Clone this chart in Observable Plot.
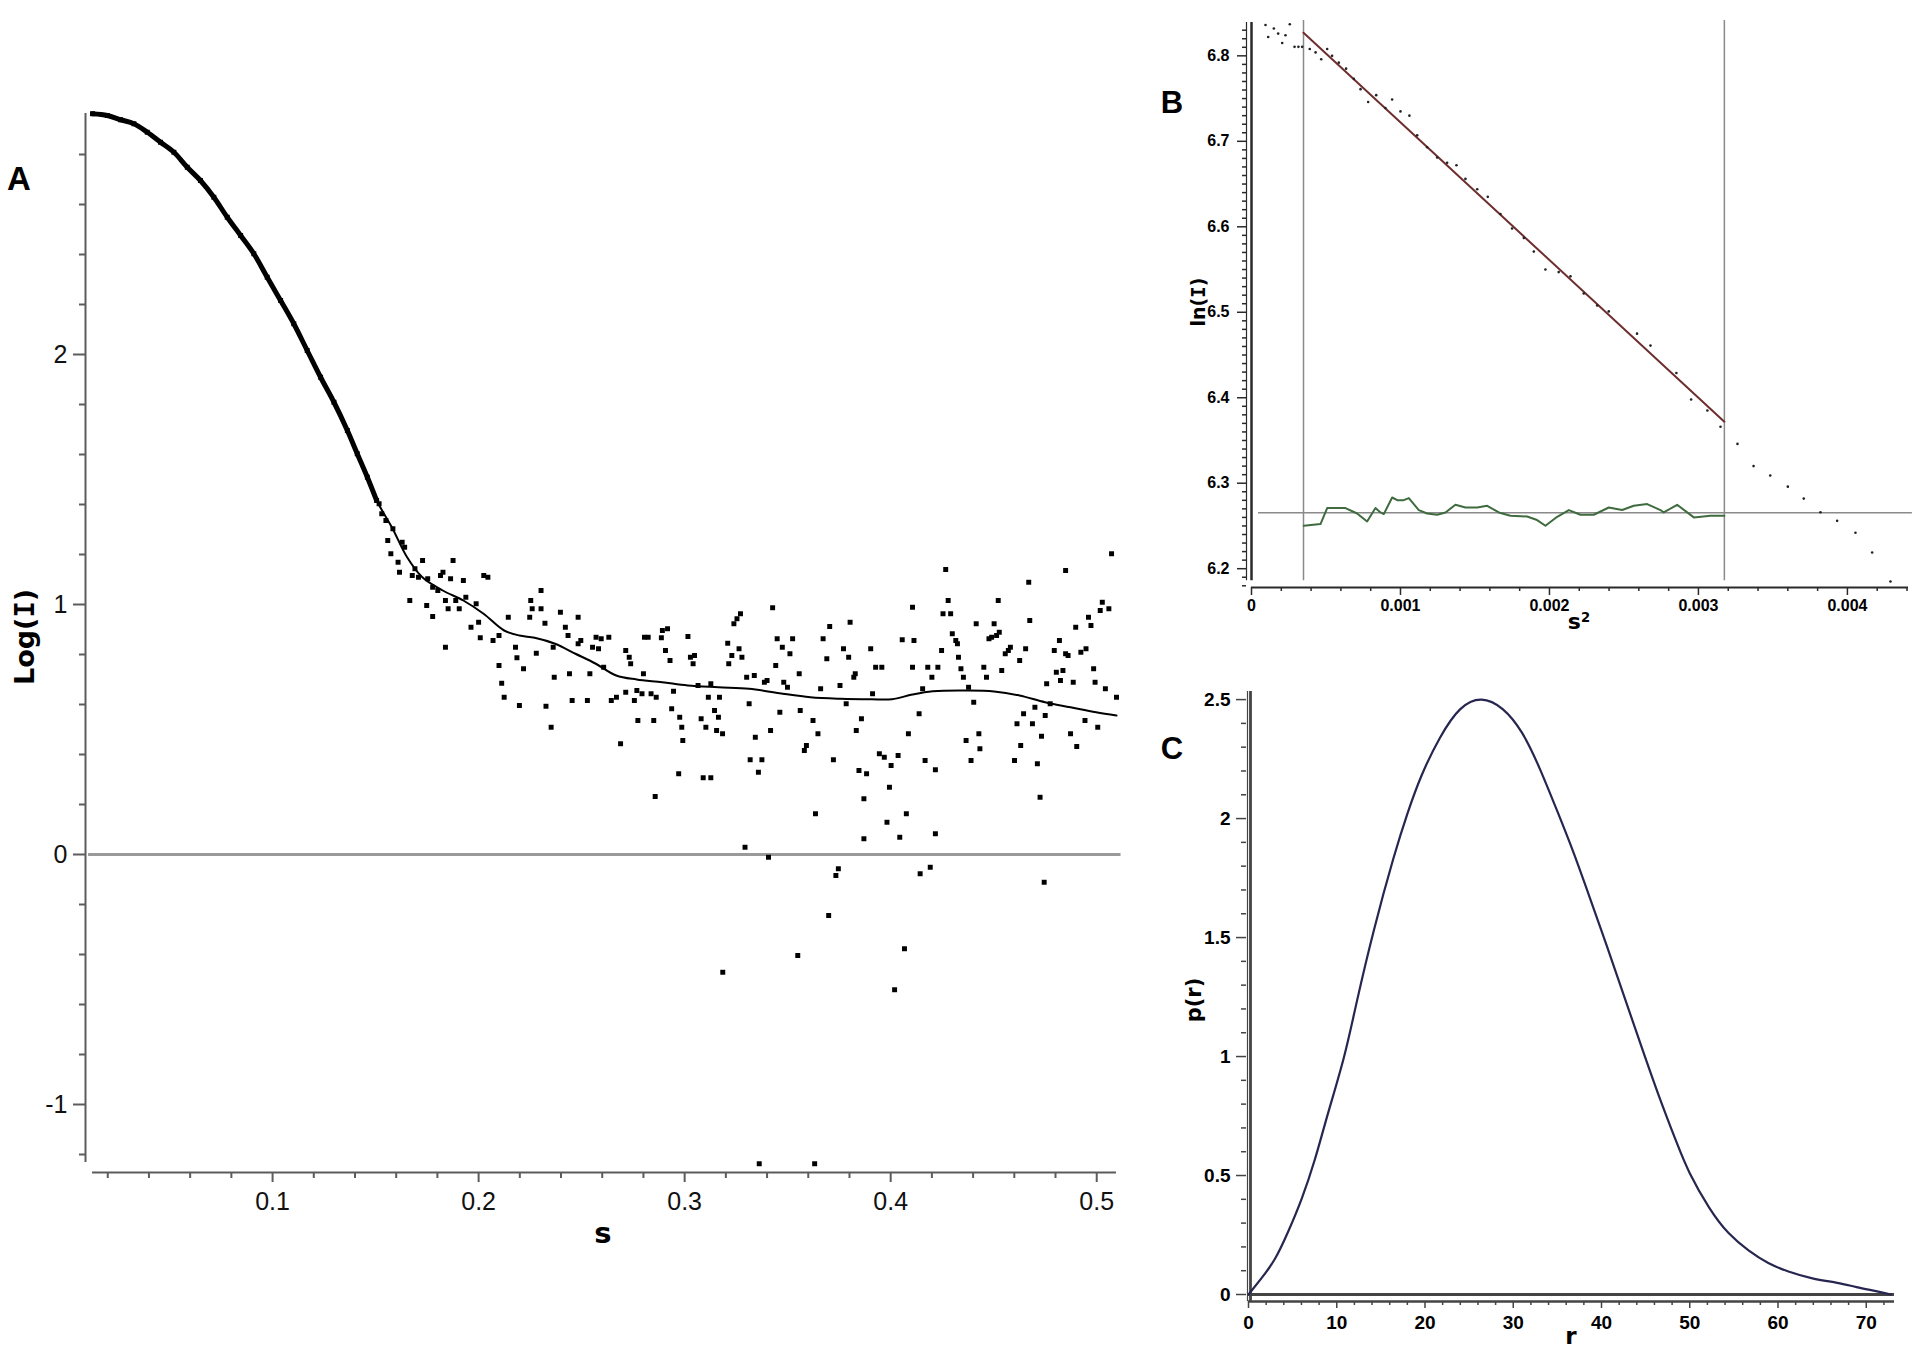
<!DOCTYPE html>
<html><head><meta charset="utf-8">
<script src="https://cdn.jsdelivr.net/npm/d3@7"></script>
<script src="https://cdn.jsdelivr.net/npm/@observablehq/plot@0.6"></script>
<style>
html,body{margin:0;padding:0;background:#fff;}
#root{position:relative;width:1920px;height:1352px;overflow:hidden;background:#fff;font-family:"Liberation Sans",Arial,sans-serif;}
#root svg{position:absolute;overflow:visible;}
.lbl{position:absolute;transform:translate(-50%,-50%);line-height:1;white-space:nowrap;color:#000;font-weight:bold;}
.ax{font-family:"DejaVu Sans",Verdana,sans-serif;}
.rot{transform:translate(-50%,-50%) rotate(-90deg);}
.mi{font-family:"DejaVu Sans Mono",monospace;}
sup{font-size:0.6em;vertical-align:0.55em;line-height:0;}
</style></head><body><div id="root"></div>
<script>
// ---------- Panel A : Log(I) vs s ----------
const aXDomain = [0.0126, 0.5096];
const aYDomain = [-1.272, 2.964];
const aYAxisExtent = [-1.232, 2.964];
const aXTicks = [0.1, 0.2, 0.3, 0.4, 0.5];
const aYTicks = [-1, 0, 1, 2];
// dense part of the measured curve
const aDenseS = [0.0126,0.0198,0.0262,0.0327,0.0392,0.0456,0.0521,0.0586,0.0650,0.0715,0.0780,0.0845,0.0909,0.0974,0.1039,0.1103,0.1168,0.1233,0.1298,0.1363,0.1411,0.1460,0.1505];
const aDenseLogI = [2.963,2.956,2.939,2.923,2.889,2.849,2.809,2.749,2.696,2.629,2.549,2.476,2.403,2.309,2.216,2.123,2.016,1.909,1.809,1.696,1.603,1.509,1.416];
// scattered measured points
const aDotS = [0.1517,0.1530,0.1550,0.1584,0.1559,0.1629,0.1641,0.1574,0.1609,0.1616,0.1666,0.1691,0.1708,0.1678,0.1728,0.1753,0.1777,0.1802,0.1815,0.1876,0.1864,0.1827,0.1839,0.1748,0.1777,0.1852,0.1889,0.1906,0.1926,0.1938,0.1988,0.1963,0.2000,0.2008,0.2025,0.2045,0.1839,0.2070,0.2099,0.2099,0.2112,0.2124,0.2144,0.2179,0.2186,0.2198,0.2218,0.2253,0.2248,0.2260,0.2280,0.2303,0.2303,0.2322,0.2327,0.2352,0.2362,0.2367,0.2397,0.2421,0.2434,0.2441,0.2454,0.2483,0.2483,0.2496,0.2528,0.2540,0.2553,0.2570,0.2582,0.2595,0.2607,0.2632,0.2644,0.2669,0.2689,0.2714,0.2714,0.2731,0.2738,0.2756,0.2773,0.2768,0.2793,0.2800,0.2805,0.2823,0.2837,0.2850,0.2862,0.2857,0.2887,0.2892,0.2907,0.2917,0.2929,0.2937,0.2946,0.2971,0.2976,0.2986,0.2991,0.3016,0.3028,0.3041,0.3048,0.3065,0.3080,0.3103,0.3115,0.3127,0.3145,0.3155,0.3164,0.3169,0.3184,0.3090,0.3127,0.3209,0.3214,0.3229,0.3239,0.3254,0.3264,0.3271,0.3278,0.3293,0.3301,0.3313,0.3318,0.3375,0.3358,0.3338,0.3343,0.3387,0.3400,0.3407,0.3417,0.3427,0.3442,0.3449,0.3462,0.3474,0.3481,0.3499,0.3511,0.3524,0.3556,0.3561,0.3581,0.3591,0.3623,0.3635,0.3647,0.3660,0.3672,0.3690,0.3704,0.3722,0.3734,0.3746,0.3754,0.3771,0.3784,0.3796,0.3803,0.3821,0.3828,0.3833,0.3846,0.3858,0.3870,0.3870,0.3883,0.3903,0.3912,0.3927,0.3945,0.3957,0.3969,0.3982,0.3994,0.4002,0.4036,0.4044,0.4056,0.4076,0.4086,0.4106,0.4113,0.4106,0.4138,0.4143,0.4155,0.4167,0.4180,0.4192,0.4200,0.4217,0.4217,0.4229,0.4247,0.4254,0.4267,0.4279,0.4291,0.4299,0.4316,0.4324,0.4329,0.4341,0.4353,0.4366,0.4378,0.4390,0.4403,0.4415,0.4428,0.4433,0.4452,0.4465,0.4477,0.4490,0.4502,0.4514,0.4522,0.4527,0.4539,0.4556,0.4571,0.4581,0.4601,0.4613,0.4626,0.4631,0.4645,0.4655,0.4670,0.4675,0.4688,0.4700,0.4712,0.4725,0.4732,0.4745,0.4750,0.4757,0.4774,0.4794,0.4804,0.4819,0.4824,0.4836,0.4849,0.4849,0.4861,0.4873,0.4886,0.4898,0.4903,0.4923,0.4943,0.4948,0.4960,0.4972,0.4985,0.4992,0.5005,0.5017,0.5027,0.5042,0.5059,0.5072,0.5096,0.3185,0.3362,0.3549,0.3631,0.3699,0.4019,0.4067];
const aDotLogI = [1.403,1.363,1.336,1.303,1.256,1.249,1.229,1.203,1.169,1.129,1.016,1.143,1.109,1.116,1.176,1.103,1.069,1.056,1.116,1.176,1.103,1.129,1.016,0.996,0.952,0.983,1.016,0.983,1.096,1.029,1.003,0.909,0.929,0.867,1.116,1.109,0.829,0.856,0.876,0.756,0.685,0.629,0.949,0.829,0.787,0.596,0.743,1.016,0.949,0.983,0.805,1.056,0.983,0.925,0.593,0.509,0.829,0.709,0.969,0.909,0.876,0.723,0.616,0.949,0.843,0.856,0.616,0.723,0.829,0.869,0.823,0.863,0.749,0.869,0.616,0.629,0.443,0.649,0.816,0.789,0.763,0.616,0.536,0.656,0.643,0.723,0.869,0.869,0.643,0.536,0.629,0.232,0.867,0.896,0.816,0.903,0.776,0.583,0.653,0.323,0.549,0.509,0.456,0.872,0.789,0.763,0.796,0.676,0.543,0.509,0.629,0.683,0.576,0.496,0.549,0.629,0.483,0.307,0.307,0.845,0.763,0.796,0.923,0.943,0.823,0.963,0.789,0.029,0.709,0.603,0.379,0.379,0.329,0.716,0.469,0.689,0.696,-0.011,0.496,0.987,0.756,0.863,0.569,0.829,0.689,0.669,0.803,0.863,0.723,0.576,0.416,0.436,0.536,0.163,0.483,0.663,0.863,0.783,0.912,0.379,-0.084,-0.057,0.676,0.823,0.603,0.789,0.929,0.709,0.723,0.496,0.336,0.543,0.063,0.223,0.323,0.823,0.643,0.749,0.403,0.749,0.389,0.129,0.269,0.356,0.396,0.069,0.859,0.163,0.483,0.989,0.856,0.749,0.563,-0.077,0.663,0.376,0.749,-0.051,0.709,0.083,0.339,0.749,0.816,0.963,1.140,1.016,0.963,0.883,0.856,0.843,0.789,0.743,0.709,0.456,0.669,0.376,0.609,0.923,0.483,0.423,0.749,0.709,0.863,0.869,0.923,0.876,1.016,0.889,0.736,0.803,0.816,0.829,0.376,0.523,0.776,0.436,0.563,0.823,1.089,0.936,0.523,0.589,0.363,0.229,0.473,-0.111,0.556,0.683,0.603,0.816,0.729,0.856,0.696,0.736,1.136,0.803,0.796,0.483,0.689,0.909,0.432,0.809,0.536,0.823,0.949,0.916,0.743,0.689,0.509,0.976,1.009,0.663,0.983,1.203,0.629,-0.471,-1.237,-0.404,-1.237,-0.244,-0.541,-0.377];
// fitted curve
const aFitS = [0.0126,0.0198,0.0262,0.0327,0.0392,0.0456,0.0521,0.0586,0.0650,0.0715,0.0780,0.0845,0.0909,0.0974,0.1039,0.1103,0.1168,0.1233,0.1298,0.1363,0.1411,0.1460,0.1505,0.1579,0.1653,0.1727,0.1826,0.1926,0.2024,0.2124,0.2198,0.2272,0.2371,0.2470,0.2569,0.2668,0.2767,0.2891,0.3015,0.3164,0.3313,0.3461,0.3610,0.3758,0.3907,0.4006,0.4105,0.4204,0.4378,0.4502,0.4625,0.4749,0.4873,0.4997,0.5096];
const aFitLogI = [2.963,2.956,2.939,2.923,2.889,2.849,2.809,2.749,2.696,2.629,2.549,2.476,2.403,2.309,2.216,2.123,2.016,1.909,1.809,1.696,1.603,1.509,1.416,1.309,1.189,1.109,1.056,1.016,0.963,0.896,0.876,0.867,0.843,0.803,0.763,0.716,0.700,0.689,0.676,0.669,0.663,0.645,0.629,0.623,0.621,0.621,0.640,0.653,0.656,0.652,0.636,0.609,0.589,0.569,0.556];

// ---------- Panel B : Guinier plot ----------
const bXDomain = [0, 0.00441];
const bYDomain = [6.178, 6.839];
const bXTicks = [0, 0.001, 0.002, 0.003, 0.004];
const bYTicks = [6.2, 6.3, 6.4, 6.5, 6.6, 6.7, 6.8];
const bS2 = [0.000094,0.000112,0.000150,0.000179,0.000206,0.000228,0.000257,0.000289,0.000315,0.000340,0.000391,0.000430,0.000468,0.000508,0.000541,0.000586,0.000635,0.000687,0.000732,0.000783,0.000837,0.000899,0.000944,0.001000,0.001060,0.001112,0.001179,0.001246,0.001313,0.001376,0.001436,0.001515,0.001586,0.001671,0.001749,0.001828,0.001895,0.001973,0.002062,0.002141,0.002230,0.002320,0.002398,0.002588,0.002678,0.002852,0.002951,0.003060,0.003148,0.003262,0.003370,0.003482,0.003600,0.003707,0.003819,0.003931,0.004054,0.004166,0.004289];
const bLnI = [6.836,6.822,6.832,6.826,6.815,6.824,6.837,6.8105,6.8105,6.8105,6.808,6.804,6.796,6.808,6.800,6.792,6.785,6.773,6.761,6.746,6.754,6.739,6.749,6.735,6.730,6.707,6.693,6.681,6.675,6.672,6.656,6.644,6.635,6.615,6.598,6.587,6.571,6.550,6.547,6.542,6.522,6.508,6.501,6.475,6.461,6.429,6.398,6.385,6.366,6.346,6.320,6.309,6.296,6.282,6.266,6.256,6.242,6.219,6.185];
const bFitS2 = [0.000349, 0.003174];
const bFitLnI = [6.827, 6.372];
const bLimits = [0.000349, 0.003174];
const bLimitsExtent = [6.186, 6.8413];
const bBaseline = 6.2654;
const bResS2 = [0.000351,0.000463,0.000508,0.000631,0.000709,0.000776,0.000832,0.000866,0.000888,0.000944,0.000978,0.001022,0.001056,0.001123,0.001179,0.001246,0.001302,0.001369,0.001436,0.001515,0.001582,0.001660,0.001738,0.001850,0.001917,0.001973,0.002052,0.002130,0.002208,0.002297,0.002398,0.002488,0.002566,0.002656,0.002745,0.002767,0.002857,0.002969,0.003080,0.003174];
const bResLnI = [6.2502,6.2522,6.2709,6.2709,6.2646,6.2553,6.2709,6.2658,6.2639,6.2833,6.2802,6.2802,6.2826,6.2686,6.2646,6.2631,6.2658,6.2748,6.2716,6.2716,6.2736,6.2658,6.2619,6.2611,6.2569,6.2502,6.2607,6.2686,6.2631,6.2631,6.2716,6.2686,6.2736,6.2756,6.2686,6.2658,6.2748,6.2600,6.2619,6.2619];

// ---------- Panel C : p(r) ----------
const cXDomain = [0, 73.2];
const cYDomain = [-0.0294, 2.534];
const cXTicks = [0, 10, 20, 30, 40, 50, 60, 70];
const cYTicks = [0, 0.5, 1, 1.5, 2, 2.5];
const cR = [0,1.5,3,4.5,6,7.5,9,10.8,12.3,14.2,16.4,18,19.6,21.7,24,26.4,28.8,31,33,35,36.8,38.7,40.6,42.5,44.5,46.5,48.5,50,52.2,54.4,56.7,58.9,61.1,63.9,66.7,68.9,71.1,72.8];
const cP = [0,0.07,0.15,0.265,0.4,0.565,0.76,0.995,1.235,1.53,1.83,2.02,2.18,2.34,2.46,2.5,2.46,2.36,2.21,2.03,1.86,1.665,1.465,1.26,1.045,0.835,0.64,0.51,0.365,0.258,0.184,0.132,0.098,0.068,0.049,0.031,0.014,0];

// ---------- helpers ----------
const zip = (xs, ys, kx, ky) => xs.map((v, i) => ({[kx]: v, [ky]: ys[i]}));
const minor = (a, b, step, skip) => d3.range(Math.round(a / step), Math.round(b / step) + 1)
  .map(k => +(k * step).toFixed(6)).filter(v => !skip.some(t => Math.abs(t - v) < step / 10));
const root = document.getElementById("root");
function place(svg, left, top) { svg.style.left = left + "px"; svg.style.top = top + "px"; root.appendChild(svg); }
function label(html, x, y, size, rotate, cls) {
  const d = document.createElement("div");
  d.className = "lbl" + (rotate ? " rot" : "") + (cls ? " " + cls : "");
  d.innerHTML = html; d.style.left = x + "px"; d.style.top = y + "px"; d.style.fontSize = size + "px";
  root.appendChild(d);
}
const font = "'Liberation Sans', Arial, sans-serif";

// ---------- Panel A plot ----------
const axA = "#5c5c5c";
const plotA = Plot.plot({
  width: 1140, height: 1270, marginLeft: 92, marginRight: 24, marginTop: 113, marginBottom: 98,
  x: {domain: aXDomain, label: null}, y: {domain: aYDomain, label: null},
  style: {fontFamily: font, fontSize: "25px", background: "transparent", overflow: "visible", color: "#111"},
  marks: [
    Plot.ruleY([0], {x1: 0.0107, x2: 0.5118, stroke: "#9a9a9a", strokeWidth: 3}),
    Plot.ruleX([aXDomain[0]], {y1: aYAxisExtent[0], y2: aYAxisExtent[1], dx: -7, stroke: axA, strokeWidth: 2}),
    Plot.axisY({ticks: minor(-1.2, 2.8, 0.2, aYTicks), tickSize: 6, tickFormat: () => "", dx: -7, stroke: axA, strokeWidth: 2, label: null}),
    Plot.axisY({ticks: aYTicks, tickSize: 12, tickPadding: 6, dx: -7, tickFormat: d => String(d), stroke: axA, strokeWidth: 2, fill: "#111", fontSize: 25, label: null}),
    Plot.ruleY([aYDomain[0]], {x1: aXDomain[0], x2: aXDomain[1], stroke: axA, strokeWidth: 2}),
    Plot.axisX({ticks: minor(0.02, 0.5, 0.02, aXTicks), tickSize: 6, tickFormat: () => "", stroke: axA, strokeWidth: 2, label: null}),
    Plot.axisX({ticks: aXTicks, tickSize: 10, tickPadding: 10, tickFormat: d => String(d), stroke: axA, strokeWidth: 2, fill: "#111", fontSize: 25, label: null}),
    Plot.line(zip(aDenseS, aDenseLogI, "s", "v"), {x: "s", y: "v", stroke: "#000", strokeWidth: 5, curve: "catmull-rom"}),
    Plot.dot(zip(aDenseS, aDenseLogI, "s", "v"), {x: "s", y: "v", symbol: "square", r: 2.8, fill: "#000"}),
    Plot.dot(zip(aDotS, aDotLogI, "s", "v"), {x: "s", y: "v", symbol: "square", r: 2.8, fill: "#000"}),
    Plot.line(zip(aFitS, aFitLogI, "s", "v"), {x: "s", y: "v", stroke: "#000", strokeWidth: 2, curve: "catmull-rom"})
  ]
});
place(plotA, 0, 0);

// ---------- Panel B plot ----------
const axB = "#2a2a2a";
const plotB = Plot.plot({
  width: 780, height: 640, marginLeft: 111, marginRight: 12, marginTop: 22, marginBottom: 53,
  x: {domain: bXDomain, label: null}, y: {domain: bYDomain, label: null},
  style: {fontFamily: font, fontSize: "16px", fontWeight: "bold", background: "transparent", overflow: "visible", color: "#000"},
  marks: [
    Plot.ruleX(bLimits, {y1: bLimitsExtent[0], y2: bLimitsExtent[1], stroke: "#8a8a8a", strokeWidth: 1.5}),
    Plot.ruleY([bBaseline], {x1: 0.000047, x2: 0.004436, stroke: "#8a8a8a", strokeWidth: 1.5}),
    Plot.ruleX([bXDomain[0]], {y1: 6.186, y2: bYDomain[1], dx: -5, stroke: axB, strokeWidth: 1.2}),
    Plot.ruleX([bXDomain[0]], {y1: 6.186, y2: bYDomain[1], stroke: axB, strokeWidth: 2.5}),
    Plot.axisY({ticks: minor(6.18, 6.83, 0.01, bYTicks), tickSize: 4, tickFormat: () => "", dx: -5, stroke: axB, strokeWidth: 1.5, label: null}),
    Plot.axisY({ticks: bYTicks, tickSize: 9, tickPadding: 8, dx: -5, tickFormat: d => d.toFixed(1), stroke: axB, strokeWidth: 1.5, fill: "#000", fontSize: 16, fontWeight: "bold", label: null}),
    Plot.ruleY([bYDomain[0]], {x1: bXDomain[0], x2: bXDomain[1], stroke: axB, strokeWidth: 2}),
    Plot.axisX({ticks: minor(0.0002, 0.0044, 0.0002, bXTicks), tickSize: 4, tickFormat: () => "", stroke: axB, strokeWidth: 1.5, label: null}),
    Plot.axisX({ticks: bXTicks, tickSize: 8, tickPadding: 4, tickFormat: d => d === 0 ? "0" : d.toFixed(3), stroke: axB, strokeWidth: 1.5, fill: "#000", fontSize: 16, fontWeight: "bold", label: null}),
    Plot.line(zip(bResS2, bResLnI, "x", "y"), {x: "x", y: "y", stroke: "#3f6b3f", strokeWidth: 2}),
    Plot.line(zip(bFitS2, bFitLnI, "x", "y"), {x: "x", y: "y", stroke: "#6e2e2e", strokeWidth: 2}),
    Plot.dot(zip(bS2, bLnI, "x", "y"), {x: "x", y: "y", r: 1.3, fill: "#222"})
  ]
});
place(plotB, 1140, 0);

// ---------- Panel C plot ----------
const axC = "#444";
const plotC = Plot.plot({
  width: 780, height: 712, marginLeft: 108, marginRight: 26, marginTop: 51, marginBottom: 51,
  x: {domain: cXDomain, label: null}, y: {domain: cYDomain, label: null},
  style: {fontFamily: font, fontSize: "19px", fontWeight: "bold", background: "transparent", overflow: "visible", color: "#000"},
  marks: [
    Plot.ruleX([cXDomain[0]], {y1: cYDomain[0], y2: cYDomain[1], dx: -1, stroke: axC, strokeWidth: 1.2}),
    Plot.ruleX([cXDomain[0]], {y1: cYDomain[0], y2: cYDomain[1], dx: 2, stroke: axC, strokeWidth: 2.8}),
    Plot.axisY({ticks: minor(0.1, 2.5, 0.1, cYTicks), tickSize: 5, tickFormat: () => "", dx: -2, stroke: axC, strokeWidth: 1.5, label: null}),
    Plot.axisY({ticks: cYTicks, tickSize: 10, tickPadding: 6, dx: -2, tickFormat: d => String(d), stroke: axC, strokeWidth: 1.5, fill: "#000", fontSize: 19, fontWeight: "bold", label: null}),
    Plot.ruleY([0], {x1: cXDomain[0], x2: cXDomain[1], stroke: axC, strokeWidth: 3.2}),
    Plot.ruleY([cYDomain[0]], {x1: cXDomain[0], x2: cXDomain[1], stroke: axC, strokeWidth: 2.4}),
    Plot.axisX({ticks: minor(2, 72, 2, cXTicks), tickSize: 4, tickFormat: () => "", stroke: axC, strokeWidth: 1.5, label: null}),
    Plot.axisX({ticks: cXTicks, tickSize: 7, tickPadding: 7, tickFormat: d => String(d), stroke: axC, strokeWidth: 1.5, fill: "#000", fontSize: 19, fontWeight: "bold", label: null}),
    Plot.line(zip(cR, cP, "r", "p"), {x: "r", y: "p", stroke: "#262650", strokeWidth: 2.2, curve: "natural"})
  ]
});
place(plotC, 1140, 640);

// ---------- text labels ----------
label("A", 19, 178, 33);
label("Log(<span class='mi'>I</span>)", 24, 637, 27, true, "ax");
label("s", 603, 1233, 29, false, "ax");
label("B", 1172, 102, 31);
label("ln(<span class='mi'>I</span>)", 1198, 302, 19, true, "ax");
label("s<sup>2</sup>", 1579, 622, 22, false, "ax");
label("C", 1172, 748, 31);
label("p(r)", 1194, 1000, 21, true, "ax");
label("r", 1571, 1336, 23, false, "ax");
</script></body></html>
